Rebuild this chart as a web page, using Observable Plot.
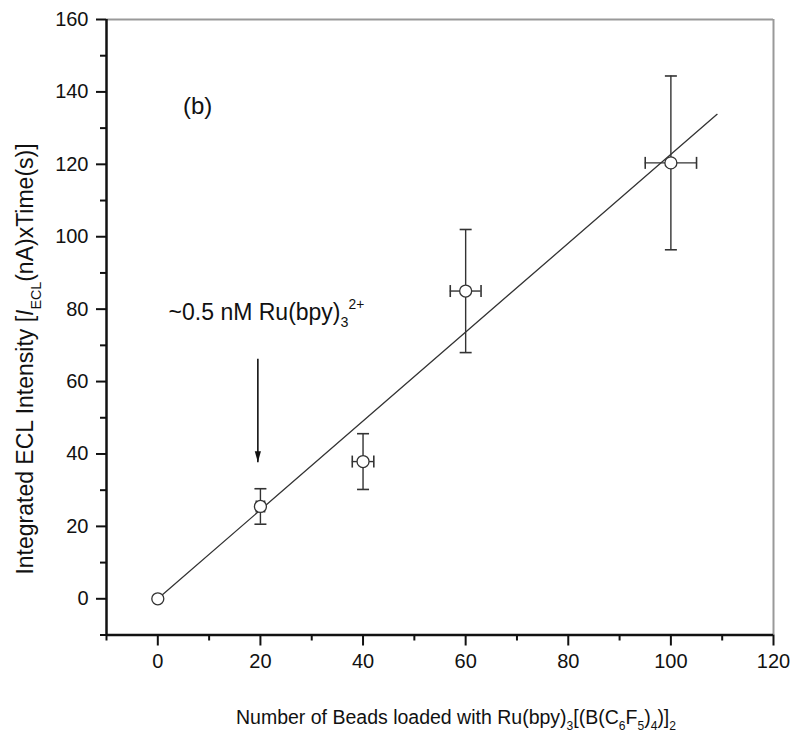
<!DOCTYPE html>
<html>
<head>
<meta charset="utf-8">
<script src="https://cdn.jsdelivr.net/npm/d3@7"></script>
<script src="https://cdn.jsdelivr.net/npm/@observablehq/plot@0.6"></script>
<style>
  html, body { margin: 0; padding: 0; background: #fff; }
  svg text { font-family: Arial, "Liberation Sans", sans-serif; }
</style>
</head>
<body>
<div id="chart"></div>
<script>
// ---- data ----
const beads     = [0, 20, 40, 60, 100];           // x
const intensity = [0, 25.5, 37.9, 85.0, 120.4];   // y
const yErr      = [0, 4.9, 7.7, 17.0, 24.0];
const xErr      = [0, 0.8, 2.1, 3.0, 5.0];

const fitX = [0, 109];
const fitY = [0, 133.8];

const arrowX = [19.5];
const arrowFrom = [66.3];
const arrowTo = [37.7];

const xMajor = [0, 20, 40, 60, 80, 100, 120];
const xMinor = [-10, 10, 30, 50, 70, 90, 110];
const yMajor = [0, 20, 40, 60, 80, 100, 120, 140, 160];
const yMinor = [-10, 10, 30, 50, 70, 90, 110, 130, 150];

const panelLabel = "(b)";
const panelPos = {x: 4.9, y: 136};
const notePos = {x: 2.2, y: 76.9};

// ---- build tables ----
const pts = beads.map((b, i) => ({x: b, y: intensity[i], ey: yErr[i], ex: xErr[i]}));
const fit = fitX.map((v, i) => ({x: v, y: fitY[i]}));
const arrow = arrowX.map((v, i) => ({x: v, y1: arrowFrom[i], y2: arrowTo[i]}));

const hCap = {draw(ctx, size) { const r = Math.sqrt(size / Math.PI); ctx.moveTo(-r, 0); ctx.lineTo(r, 0); }};
const vCap = {draw(ctx, size) { const r = Math.sqrt(size / Math.PI); ctx.moveTo(0, -r); ctx.lineTo(0, r); }};
const head = {draw(ctx, size) { const r = Math.sqrt(size / Math.PI); ctx.moveTo(0, 0); ctx.lineTo(-r * 0.28, -r); ctx.lineTo(r * 0.28, -r); ctx.closePath(); }};

const eb = pts.filter(d => d.ey > 0);
const exb = pts.filter(d => d.ex > 0);
const ink = "#333";

const chart = Plot.plot({
  width: 793,
  height: 734,
  marginLeft: 106,
  marginRight: 20,
  marginTop: 19,
  marginBottom: 99.5,
  x: {domain: [-10, 120]},
  y: {domain: [-10, 160]},
  style: {fontSize: "20px", fontFamily: "Arial, 'Liberation Sans', sans-serif", background: "#fff", color: "#111", overflow: "visible"},
  marks: [
    // frame
    Plot.ruleY([160], {stroke: "#999", strokeWidth: 2}),
    Plot.ruleX([120], {stroke: "#999", strokeWidth: 2}),
    // axes
    Plot.axisX(xMinor, {tickSize: 6, strokeWidth: 2, tickFormat: () => "", label: null}),
    Plot.axisX(xMajor, {tickSize: 11, strokeWidth: 2, tickPadding: 8, label: null, fontSize: 20}),
    Plot.axisY(yMinor, {tickSize: 6, strokeWidth: 2, tickFormat: () => "", label: null}),
    Plot.axisY(yMajor, {tickSize: 10, strokeWidth: 2, tickPadding: 8, label: null, fontSize: 20}),
    Plot.ruleX([-10], {stroke: "#111", strokeWidth: 2.5}),
    Plot.ruleY([-10], {stroke: "#111", strokeWidth: 2.5}),
    // fit line
    Plot.line(fit, {x: "x", y: "y", stroke: ink, strokeWidth: 1.3}),
    // error bars
    Plot.ruleX(eb, {x: "x", y1: d => d.y - d.ey, y2: d => d.y + d.ey, stroke: ink, strokeWidth: 1.4}),
    Plot.ruleY(exb, {y: "y", x1: d => d.x - d.ex, x2: d => d.x + d.ex, stroke: ink, strokeWidth: 1.4}),
    Plot.dot(eb, {x: "x", y: d => d.y + d.ey, symbol: hCap, r: 6, fill: "none", stroke: ink, strokeWidth: 1.6}),
    Plot.dot(eb, {x: "x", y: d => d.y - d.ey, symbol: hCap, r: 6, fill: "none", stroke: ink, strokeWidth: 1.6}),
    Plot.dot(exb, {x: d => d.x - d.ex, y: "y", symbol: vCap, r: 6, fill: "none", stroke: ink, strokeWidth: 1.6}),
    Plot.dot(exb, {x: d => d.x + d.ex, y: "y", symbol: vCap, r: 6, fill: "none", stroke: ink, strokeWidth: 1.6}),
    // points
    Plot.dot(pts, {x: "x", y: "y", r: 6, fill: "#fff", stroke: ink, strokeWidth: 1.3}),
    // arrow
    Plot.link(arrow, {x1: "x", x2: "x", y1: "y1", y2: "y2", stroke: "#111", strokeWidth: 1.6}),
    Plot.dot(arrow, {x: "x", y: "y2", symbol: head, r: 11, fill: "#111", stroke: "none"}),
    // panel label
    Plot.text([panelLabel], {x: panelPos.x, y: panelPos.y, text: d => d, textAnchor: "start", fontSize: 24, fill: "#111"})
  ]
});

document.getElementById("chart").appendChild(chart);

// ---- rich text (sub/superscripts) ----
const svg = d3.select(chart);
const sx = chart.scale("x").apply;
const sy = chart.scale("y").apply;

function rich(sel, parts, baseSize) {
  let shift = 0;
  for (const [txt, kind] of parts) {
    let target = 0, size = baseSize, style = "normal";
    if (kind === "sub") { target = baseSize * 0.33; size = baseSize * 0.62; }
    else if (kind === "sup") { target = -baseSize * 0.46; size = baseSize * 0.6; }
    else if (kind === "i") { style = "italic"; }
    sel.append("tspan")
      .attr("dy", target - shift)
      .attr("font-size", size)
      .attr("font-style", style)
      .text(txt);
    shift = target;
  }
}

// note
const note = svg.append("text")
  .attr("x", sx(notePos.x)).attr("y", sy(notePos.y))
  .attr("text-anchor", "start")
  .attr("fill", "#111").attr("font-size", 23);
rich(note, [["~0.5 nM Ru(bpy)", null], ["3", "sub"], ["2+", "sup"]], 23);

// x label
const xl = svg.append("text")
  .attr("x", 456).attr("y", 724)
  .attr("text-anchor", "middle").attr("fill", "#111").attr("font-size", 19.5);
rich(xl, [["Number of Beads loaded with Ru(bpy)", null], ["3", "sub"], ["[(B(C", null], ["6", "sub"], ["F", null], ["5", "sub"], [")", null], ["4", "sub"], [")]", null], ["2", "sub"]], 19.5);

// y label
const yl = svg.append("text")
  .attr("transform", "translate(33,359) rotate(-90)")
  .attr("text-anchor", "middle").attr("fill", "#111").attr("font-size", 23);
rich(yl, [["Integrated ECL Intensity [", null], ["I", "i"], ["ECL", "sub"], ["(nA)xTime(s)]", null]], 23);
</script>
</body>
</html>
